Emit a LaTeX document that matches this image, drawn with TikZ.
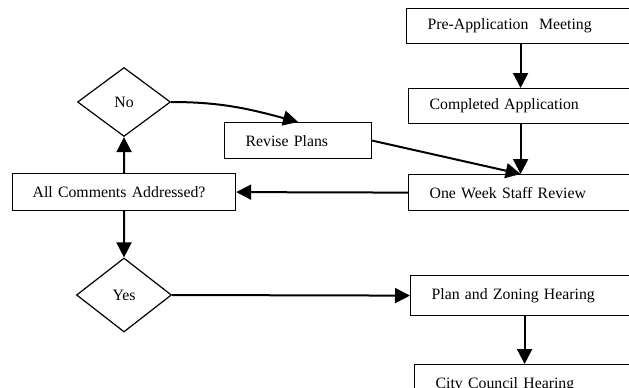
\documentclass[tikz,border=0pt]{standalone}
\usepackage{fontspec}
\setmainfont{Liberation Serif}
\usetikzlibrary{arrows.meta,positioning,shapes.geometric}
\tikzset{
  arr/.style={-{Triangle[length=15pt,width=15pt]}, line width=2pt, draw=black},
  figbase/.style={
    x=1pt, y=-1pt,
    font=\fontsize{15.8}{19}\selectfont,
    line join=miter,
  },
  procbox/.style={
    draw=black, line width=1.2pt,
    anchor=north west,
    inner xsep=21pt, inner ysep=0pt,
    align=left,
    text width=#1,
  },
  decision/.style={
    diamond, draw=black, line width=1.2pt,
    inner sep=0pt,
  },
}

\begin{document}
\begin{tikzpicture}[figbase]
  \useasboundingbox (0,0) rectangle (629,388);
  \clip (0,0) rectangle (629,388);

  % right column
  \node[procbox=186pt, minimum height=35pt] (preapp) at (406,8) {Pre-Application\ \ Meeting};
  \node[procbox=182pt, minimum height=35pt] (complete) at (408,88) {Completed Application};
  \node[procbox=182pt, minimum height=36pt] (review) at (408,174) {One Week Staff Review};
  \node[procbox=186pt, minimum height=40pt] (zoning) at (410,275) {Plan and Zoning Hearing};
  \node[procbox=178pt, minimum height=40pt] (council) at (414,364) {City Council Hearing};

  % loop on the left
  \node[procbox=105pt, minimum height=36pt] (revise) at (224,122) {Revise Plans};
  \node[procbox=183pt, minimum height=37pt, inner xsep=20pt] (comments) at (12,173) {All Comments Addressed?};
  \node[decision, minimum width=93pt, minimum height=69pt] (no) at (124,102) {No};
  \node[decision, minimum width=95pt, minimum height=74pt] (yes) at (124,295) {Yes};

  \draw[arr] (preapp.south) -- (preapp.south |- complete.north);
  \draw[arr] (complete.south) -- (complete.south |- review.north);
  \draw[arr] (revise.east) -- (review.north);
  \draw[arr] (review.west) -- (comments.east);
  \draw[arr] (comments.north) -- (no.south);
  \draw[arr] (no.east) to[out=0, in=165] (revise.north);
  \draw[arr] (comments.south) -- (yes.north);
  \draw[arr] (yes.east) -- (zoning.west);
  \draw[arr] (zoning.south) -- (zoning.south |- council.north);
\end{tikzpicture}
\end{document}
